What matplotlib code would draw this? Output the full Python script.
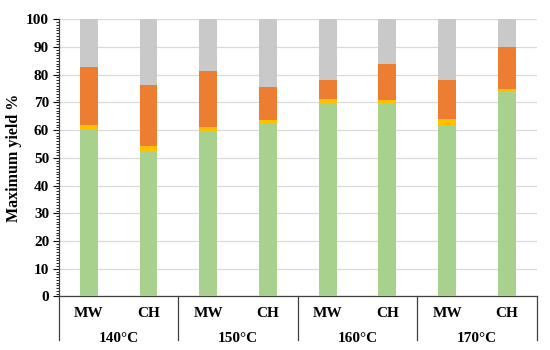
import matplotlib

matplotlib.use("Agg")
import matplotlib.pyplot as plt
from matplotlib.ticker import MultipleLocator

temperatures = ["140°C", "150°C", "160°C", "170°C"]
methods = ["MW", "CH"]

green = [60.2, 52.1, 59.7, 62.3, 69.4, 69.3, 61.5, 73.8]
yellow = [1.5, 2.1, 1.4, 1.5, 1.7, 1.6, 2.4, 0.9]
orange = [21.0, 22.0, 20.4, 11.9, 6.9, 13.0, 14.3, 15.4]

plt.rcParams["font.family"] = ["Liberation Serif", "DejaVu Serif"]
plt.rcParams["font.weight"] = "bold"

n = len(green)
x = list(range(n))
gray = [100 - g - y - o for g, y, o in zip(green, yellow, orange)]
bottom2 = [g + y for g, y in zip(green, yellow)]
bottom3 = [b + o for b, o in zip(bottom2, orange)]

fig = plt.figure(figsize=(5.5, 3.5), dpi=100)
ax = fig.add_axes([0.107, 0.153, 0.869, 0.792])

width = 0.3
ax.bar(x, green, width, color="#A9D18E", zorder=3)
ax.bar(x, yellow, width, bottom=green, color="#FFC000", zorder=3)
ax.bar(x, orange, width, bottom=bottom2, color="#ED7D31", zorder=3)
ax.bar(x, gray, width, bottom=bottom3, color="#C9C9C9", zorder=3)

ax.set_xlim(-0.5, n - 0.5)
ax.set_ylim(0, 100)
ax.yaxis.set_major_locator(MultipleLocator(10))
ax.yaxis.set_minor_locator(MultipleLocator(1))
ax.tick_params(axis="y", which="major", length=4, width=0.8, labelsize=11, pad=3)
ax.tick_params(axis="y", which="minor", length=2, width=0.6)
ax.set_xticks([])
ax.grid(axis="y", color="#D9D9D9", linewidth=0.9, zorder=0)

for side in ["top", "right"]:
    ax.spines[side].set_visible(False)
ax.spines["left"].set_color("#404040")
ax.spines["bottom"].set_color("#404040")
ax.spines["left"].set_linewidth(0.9)
ax.spines["bottom"].set_linewidth(0.9)

ax.set_ylabel("Maximum yield %", fontsize=11.5, fontweight="bold")
ax.yaxis.set_label_coords(-0.078, 0.5)

# two-level category axis
low = -0.157
trans = ax.get_xaxis_transform()
for i in range(len(temperatures) + 1):
    xp = -0.5 + 2 * i
    ax.plot([xp, xp], [0, low], transform=trans, color="#404040", lw=0.9, clip_on=False)
for i, xi in enumerate(x):
    ax.text(xi, -0.06, methods[i % 2], transform=trans, ha="center", va="center",
            fontsize=11, fontweight="bold")
for j, t in enumerate(temperatures):
    ax.text(2 * j + 0.5, -0.15, t, transform=trans, ha="center", va="center",
            fontsize=11, fontweight="bold")

fig.savefig("out.png", dpi=100)
